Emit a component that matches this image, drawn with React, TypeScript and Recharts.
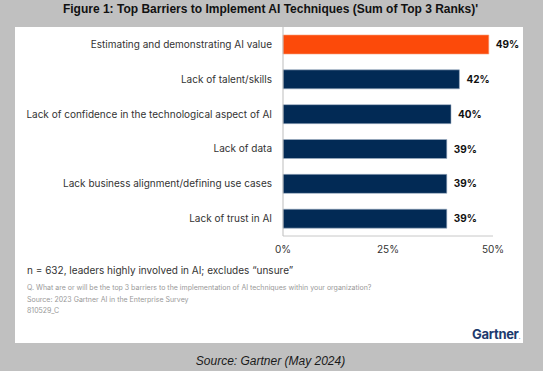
import { Bar, BarChart, Cell, LabelList, XAxis, YAxis } from 'recharts'

const categories = [
  'Estimating and demonstrating AI value',
  'Lack of talent/skills',
  'Lack of confidence in the technological aspect of AI',
  'Lack of data',
  'Lack business alignment/defining use cases',
  'Lack of trust in AI',
]
const shares = [49, 42, 40, 39, 39, 39]
const highlighted = [true, false, false, false, false, false]
const xTicks = [0, 25, 50]

const data = categories.map((name, i) => ({ name, value: shares[i], hi: highlighted[i] }))

const ORANGE = '#fc4a0a'
const NAVY = '#022a55'
const labelFont = "'Inter', 'Liberation Sans', Arial, sans-serif"

// single-line category label (recharts would wrap the long one)
function CategoryTick({ x, y, payload }: any) {
  return (
    <text x={x} y={y} dy="0.35em" textAnchor="end" fontSize={10} fill="#333" fontFamily={labelFont}>
      {payload.value}
    </text>
  )
}

export default function App() {
  return (
    <div style={{ position: 'absolute', left: 0, top: 0, width: 543, height: 371, background: '#c0c0c0', fontFamily: labelFont, overflow: 'hidden' }}>
      <div style={{ position: 'absolute', left: 0, top: 2, width: 541, textAlign: 'center', fontFamily: "'Liberation Sans', Arial, sans-serif", fontWeight: 'bold', fontSize: 12, color: '#111' }}>
        Figure 1: Top Barriers to Implement AI Techniques (Sum of Top 3 Ranks)'
      </div>
      {/* white card */}
      <div style={{ position: 'absolute', left: 15, top: 27, width: 508, height: 316, background: '#fff' }} />
      <div style={{ position: 'absolute', left: 0, top: 0 }}>
        <BarChart width={543} height={270} data={data} layout="vertical" margin={{ top: 27, right: 50, bottom: 0, left: 0 }} barSize={19}>
          <XAxis type="number" domain={[0, 50]} ticks={xTicks} tickFormatter={(v) => `${v}%`}
            tick={{ fontSize: 10, fill: '#333', fontFamily: labelFont }} tickLine={false} tickSize={0} tickMargin={10}
            axisLine={{ stroke: '#c8c8c8' }} height={34} />
          <YAxis type="category" dataKey="name" width={283} tick={<CategoryTick />}
            tickLine={false} tickSize={0} tickMargin={11} axisLine={{ stroke: '#bdbdbd' }} interval={0} />
          <Bar dataKey="value" isAnimationActive={false} strokeWidth={0.6}>
            {data.map((d) => (
              <Cell key={d.name} fill={d.hi ? ORANGE : NAVY} stroke={d.hi ? '#f7a07a' : '#9fb0c4'} />
            ))}
            <LabelList dataKey="value" position="right" offset={7} formatter={(v: number) => `${v}%`}
              style={{ fontSize: 10, fontWeight: 'bold', fill: '#111', fontFamily: labelFont }} />
          </Bar>
        </BarChart>
      </div>
      <div style={{ position: 'absolute', left: 27, top: 264, fontSize: 10, color: '#333' }}>
        n = 632, leaders highly involved in AI; excludes “unsure”
      </div>
      <div style={{ position: 'absolute', left: 27, top: 282, fontSize: 7, color: '#999', lineHeight: '11.5px' }}>
        <div>Q. What are or will be the top 3 barriers to the implementation of AI techniques within your organization?</div>
        <div>Source: 2023 Gartner AI in the Enterprise Survey</div>
        <div>810529_C</div>
      </div>
      <div style={{ position: 'absolute', right: 23, top: 326, fontSize: 13, fontWeight: 'bold', color: '#1d3a6e', letterSpacing: -0.3 }}>
        Gartner<span style={{ fontSize: 5 }}>.</span>
      </div>
      <div style={{ position: 'absolute', left: 0, top: 354, width: 541, textAlign: 'center', fontFamily: "'Liberation Sans', Arial, sans-serif", fontStyle: 'italic', fontSize: 12, color: '#1a1a1a' }}>
        Source: Gartner (May 2024)
      </div>
    </div>
  )
}
